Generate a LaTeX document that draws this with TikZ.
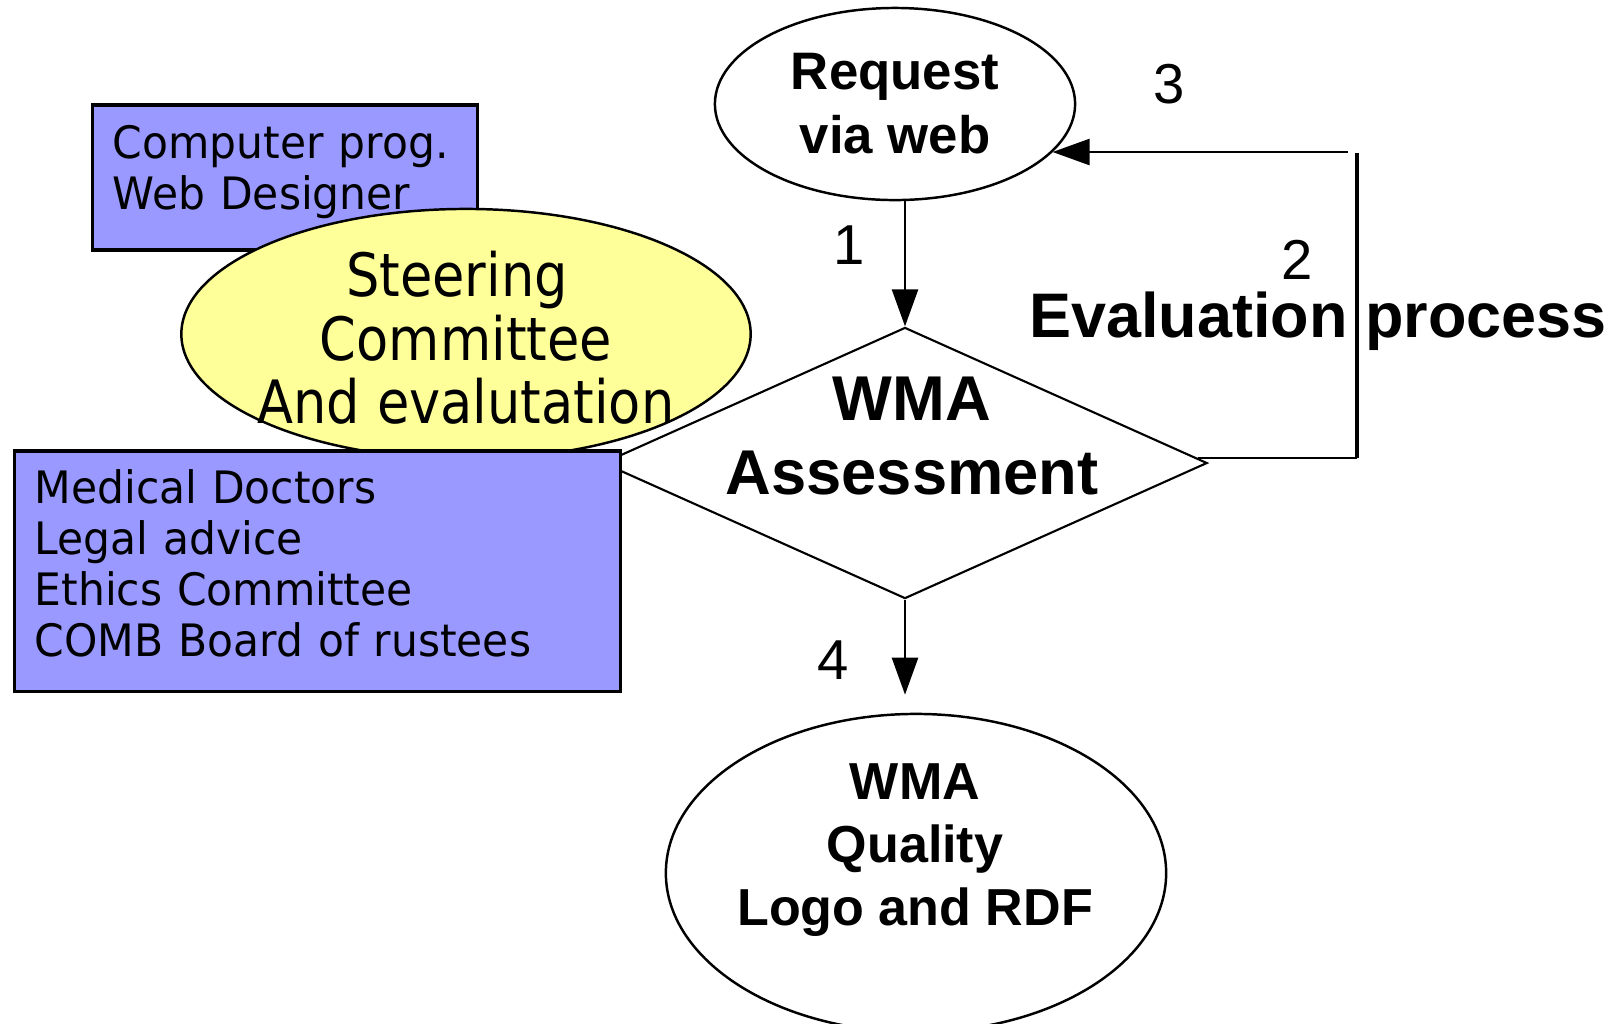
\documentclass[tikz,border=0pt]{standalone}
\usepackage{fontspec}
\usepackage{xcolor}
\usepackage{tikz}
\usetikzlibrary{shapes.geometric, arrows.meta, positioning, calc}
\newfontfamily\arialfont{Liberation Sans}
\newfontfamily\tahomafont{DejaVu Sans}[FakeStretch=0.88]
\newfontfamily\tahomawide{DejaVu Sans}[FakeStretch=0.95]
\definecolor{boxblue}{HTML}{9999FF}
\definecolor{ovalyellow}{HTML}{FFFF99}
\tikzset{staffbox/.style={draw=black, line width=0.9pt, fill=boxblue, inner xsep=0.2cm, inner ysep=0pt, align=left, font=\tahomawide\fontsize{12.7pt}{14.5pt}\selectfont},
oval/.style={ellipse, draw=black, line width=0.7pt, inner sep=0pt},
flowarrow/.style={-{Triangle[length=3.7mm,width=2.6mm]}, line width=0.7pt},
steplabel/.style={font=\arialfont\fontsize{16pt}{16pt}\selectfont, anchor=base, inner sep=0pt}}

\begin{document}
\begin{tikzpicture}[x=0.01cm, y=-0.01cm]
 \useasboundingbox (0,0) rectangle (1616,1023);

 %Drawing Diamond
 \node[diamond, draw, line width=0.6pt, fill=white, minimum width=6.04cm, minimum height=2.71cm, inner sep=0pt] (assess) at (905,463) {};
 \node (assesstext) [font=\arialfont\bfseries\fontsize{18pt}{21.3pt}\selectfont, align=center] at (912,436) {WMA\\Assessment};

 %Drawing Boxes and Committee
 \node[staffbox, minimum height=1.45cm, text width=3.44cm] (webteam) at (285,177.5) {Computer prog.\\Web Designer\rule[-0.2cm]{0pt}{0.1cm}};
 \node[oval, fill=ovalyellow, minimum width=5.69cm, minimum height=2.5cm] (steering) at (466,334) {};
 \node (steeringtext) [font=\tahomafont\fontsize{17pt}{18.1pt}\selectfont, align=center] at (466,338) {Steering\hspace*{0.18cm}\\Committee\\And evalutation};
 \node[staffbox, minimum height=2.4cm, text width=5.65cm] (experts) at (317.5,571) {Medical Doctors\\Legal advice\\Ethics Committee\\COMB Board of rustees\rule[-0.15cm]{0pt}{0.1cm}};

 %Drawing Request and Quality
 \node[oval, minimum width=3.6cm, minimum height=1.92cm, align=center, font=\arialfont\bfseries\fontsize{15pt}{18.2pt}\selectfont] (request) at (895,104) {Request\\via web};
 \node[oval, minimum width=5cm, minimum height=3.18cm] (quality) at (916,873) {};
 \node (qualitytext) [font=\arialfont\bfseries\fontsize{14.8pt}{17.9pt}\selectfont, align=center] at (915,850) {WMA\\Quality\\Logo and RDF};

 %Drawing Arrows and feedback line
 \draw[flowarrow] (assess.north |- request.south) -- (assess.north);
 \draw[flowarrow, shorten >=0.18cm] (assess.south) -- (assess.south |- quality.north);
 \coordinate (fbfoot) at ($(assess.east)!0.035!(assess.north)$);
 \coordinate (fbtop) at (1357,153);
 \coordinate (fbstart) at (1348,152);
 \draw[line width=0.7pt] (fbfoot) -- (fbfoot -| fbtop);
 \draw[line width=1pt] (fbfoot -| fbtop) -- (fbtop);
 \draw[flowarrow] (fbstart) -- (fbstart -| request.-17);

 %Drawing Labels
 \node (evallabel) [font=\arialfont\bfseries\fontsize{17.9pt}{18pt}\selectfont, anchor=base, inner sep=0pt] at (1318,337) {Evaluation process};
 \node[steplabel] (num1) at (849,264) {1};
 \node[steplabel] (num2) at (1297,279) {2};
 \node[steplabel] (num3) at (1169,103) {3};
 \node[steplabel] (num4) at (833,679) {4};
\end{tikzpicture}
\end{document}
